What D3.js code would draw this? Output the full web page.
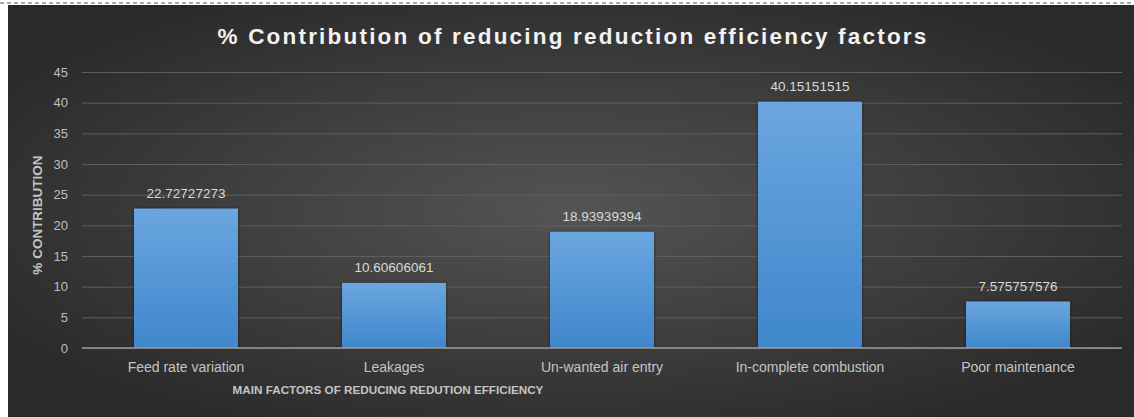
<!DOCTYPE html>
<html>
<head>
<meta charset="utf-8">
<script src="https://cdn.jsdelivr.net/npm/d3@7"></script>
<style>
  html, body { margin: 0; padding: 0; background: #ffffff; }
  svg { display: block; }
</style>
</head>
<body>
<svg id="chart" width="1134" height="417"></svg>
<script>
// Factors that reduce reduction efficiency and their % contribution
const categories = ["Feed rate variation", "Leakages", "Un-wanted air entry", "In-complete combustion", "Poor maintenance"];
const contribution = [22.72727273, 10.60606061, 18.93939394, 40.15151515, 7.575757576];
const valueLabels = ["22.72727273", "10.60606061", "18.93939394", "40.15151515", "7.575757576"];
const yTicks = [0, 5, 10, 15, 20, 25, 30, 35, 40, 45];

const titleText = "% Contribution of reducing reduction efficiency factors";
const yTitle = "% CONTRIBUTION";
const xTitle = "MAIN FACTORS OF REDUCING REDUTION EFFICIENCY";

const svg = d3.select("#chart");
const W = 1134, H = 417;
const margin = { left: 82, right: 12, top: 72, bottom: 69 };

const defs = svg.append("defs");

// dark panel with soft light in the middle
const bg = defs.append("radialGradient").attr("id", "bgGrad")
  .attr("cx", "50%").attr("cy", "50%").attr("r", "60%");
bg.append("stop").attr("offset", "0%").attr("stop-color", "#545454");
bg.append("stop").attr("offset", "100%").attr("stop-color", "#2a2a2a");

const barGrad = defs.append("linearGradient").attr("id", "barGrad")
  .attr("x1", 0).attr("y1", 0).attr("x2", 0).attr("y2", 1);
barGrad.append("stop").attr("offset", "0%").attr("stop-color", "#6ba6e0");
barGrad.append("stop").attr("offset", "100%").attr("stop-color", "#3f87cb");

const shadow = defs.append("filter").attr("id", "barShadow")
  .attr("x", "-10%").attr("y", "-10%").attr("width", "120%").attr("height", "120%");
shadow.append("feDropShadow").attr("dx", 0).attr("dy", 0).attr("stdDeviation", 1.5)
  .attr("flood-color", "#000").attr("flood-opacity", 0.55);

// outer frame: thin dashed rule along the top edge
svg.append("line").attr("x1", 0).attr("x2", W).attr("y1", 3).attr("y2", 3)
  .attr("stroke", "#3c5a88").attr("stroke-width", 1.2).attr("stroke-dasharray", "4,3");

svg.append("rect").attr("x", 8).attr("y", 5).attr("width", W - 8).attr("height", H - 5)
  .attr("fill", "url(#bgGrad)");

const x = d3.scaleBand()
  .domain(categories)
  .range([margin.left, W - margin.right])
  .paddingInner(0.5)
  .paddingOuter(0.25);

const y = d3.scaleLinear()
  .domain([0, 45])
  .range([H - margin.bottom, margin.top]);

// gridlines + value axis labels
const yAxis = d3.axisLeft(y).tickValues(yTicks).tickSize(-(W - margin.left - margin.right)).tickPadding(14);
const gy = svg.append("g").attr("transform", `translate(${margin.left},0)`).call(yAxis);
gy.select(".domain").remove();
gy.selectAll(".tick line").attr("stroke", "#5e5e5e").attr("stroke-width", 1);
gy.selectAll(".tick text")
  .attr("fill", "#bfbfbf")
  .style("font-family", "'Liberation Sans', Arial, sans-serif")
  .style("font-size", "13px");

// bars
svg.append("g").selectAll("rect").data(categories).join("rect")
  .attr("x", d => x(d))
  .attr("y", (d, i) => y(contribution[i]))
  .attr("width", x.bandwidth())
  .attr("height", (d, i) => y(0) - y(contribution[i]))
  .attr("fill", "url(#barGrad)")
  .attr("filter", "url(#barShadow)");

// baseline
svg.append("line")
  .attr("x1", margin.left).attr("x2", W - margin.right)
  .attr("y1", y(0)).attr("y2", y(0))
  .attr("stroke", "#9a9a9a").attr("stroke-width", 1.5);

// value labels
svg.append("g").selectAll("text").data(categories).join("text")
  .attr("x", d => x(d) + x.bandwidth() / 2)
  .attr("y", (d, i) => y(contribution[i]) - 11)
  .attr("text-anchor", "middle")
  .attr("fill", "#d9d9d9")
  .style("font-family", "'Liberation Sans', Arial, sans-serif")
  .style("font-size", "13.5px")
  .text((d, i) => valueLabels[i]);

// category axis
const xAxis = d3.axisBottom(x).tickSize(0).tickPadding(14);
const gx = svg.append("g").attr("transform", `translate(0,${y(0)})`).call(xAxis);
gx.select(".domain").remove();
gx.selectAll(".tick text")
  .attr("fill", "#c4c4c4")
  .style("font-family", "'Liberation Sans', Arial, sans-serif")
  .style("font-size", "14px");

// chart title
svg.append("text")
  .attr("x", 573).attr("y", 44)
  .attr("text-anchor", "middle")
  .attr("fill", "#f2f2f2")
  .style("font-family", "'Liberation Sans', Arial, sans-serif")
  .style("font-weight", "bold")
  .style("font-size", "22.5px")
  .style("letter-spacing", "2.2px")
  .text(titleText);

// axis titles
svg.append("text")
  .attr("transform", `translate(42,${(y(0) + y(45)) / 2 + 5}) rotate(-90)`)
  .attr("text-anchor", "middle")
  .attr("fill", "#c4c4c4")
  .style("font-family", "'Liberation Sans', Arial, sans-serif")
  .style("font-weight", "bold")
  .style("font-size", "13.5px")
  .text(yTitle);

svg.append("text")
  .attr("x", 388).attr("y", 394)
  .attr("text-anchor", "middle")
  .attr("fill", "#c4c4c4")
  .style("font-family", "'Liberation Sans', Arial, sans-serif")
  .style("font-weight", "bold")
  .style("font-size", "11.7px")
  .text(xTitle);
</script>
</body>
</html>
